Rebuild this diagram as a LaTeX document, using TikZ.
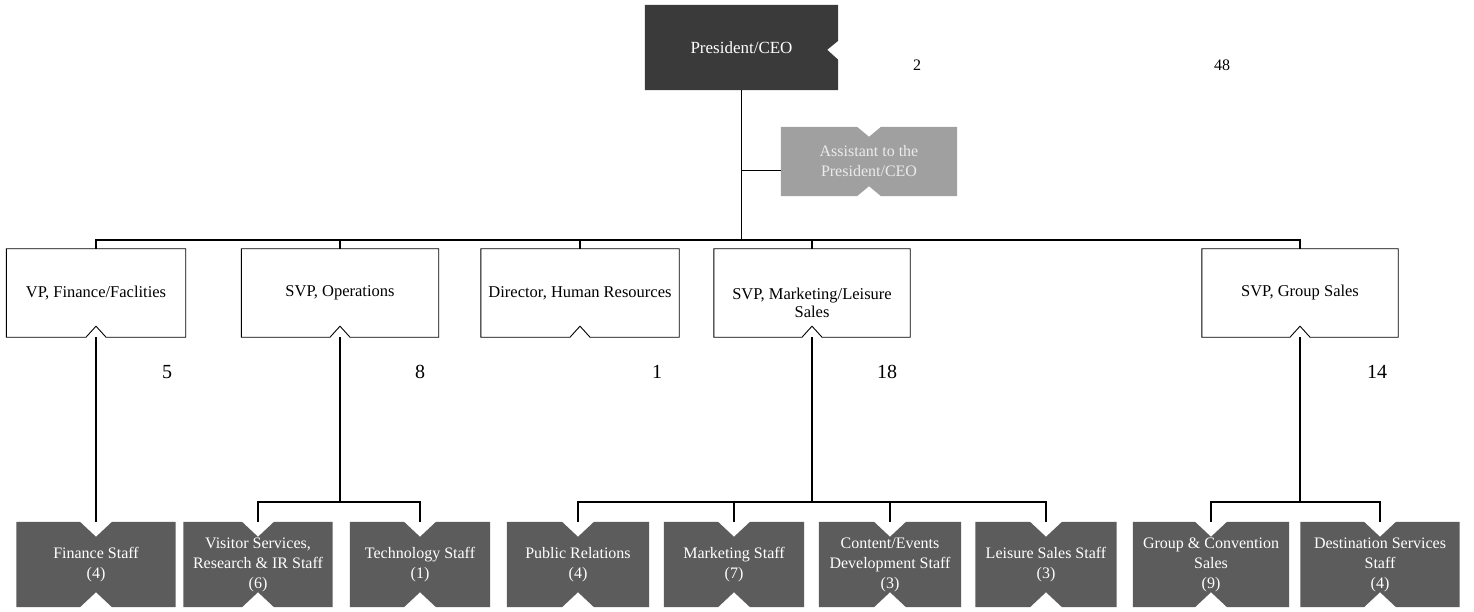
\documentclass[tikz,border=0pt]{standalone}
\usepackage{fontspec}
\setmainfont{Liberation Serif}
\usetikzlibrary{calc,backgrounds}

\definecolor{ceofill}{HTML}{3A3A3A}
\definecolor{asstfill}{HTML}{A0A0A0}
\definecolor{stafffill}{HTML}{5C5C5C}

\tikzset{
  frame/.style={inner sep=0pt, draw=none},
  headtext/.style={align=center, inner sep=0pt, font=\fontsize{16.5}{18.5}\selectfont},
  stafftext/.style={align=center, inner sep=0pt, text=white, font=\fontsize{16}{20}\selectfont},
  count/.style={inner sep=0pt, font=\fontsize{20}{20}\selectfont},
  smallcount/.style={inner sep=0pt, font=\fontsize{16}{16}\selectfont},
  link/.style={line width=1.4pt, draw=black},
  headline/.style={line width=0.9pt, fill=white, draw=black},
}

% white head box with a notch in its bottom edge
% #1 name, #2 centre x, #3 width, #4 text shift, #5 label
\newcommand\headbox[5]{%
  \node[frame, minimum width=#3, minimum height=88] (#1) at (#2,293) {};
  \draw[headline] (#1.north west) -- (#1.north east) -- (#1.south east)
     -- ($(#1.south)+(10,0)$) -- ($(#1.south)+(0,-11)$) -- ($(#1.south)+(-10,0)$)
     -- (#1.south west) -- cycle;
  \node[headtext] (#1-text) at ($(#1.center)+(0,#4)$) {#5};
}

% grey staff box, notched at top and bottom
% #1 name, #2 centre x, #3 width, #4 label
\newcommand\staffbox[4]{%
  \node[frame, minimum width=#3, minimum height=85] (#1) at (#2,564.5) {};
  \fill[stafffill] (#1.north west) -- ($(#1.north)+(-16,0)$) -- ($(#1.north)+(0,15)$)
     -- ($(#1.north)+(16,0)$) -- (#1.north east) -- (#1.south east)
     -- ($(#1.south)+(16,0)$) -- ($(#1.south)+(0,-15)$) -- ($(#1.south)+(-16,0)$)
     -- (#1.south west) -- cycle;
  \node[stafftext] (#1-text) at (#1.center) {#4};
}

\begin{document}
\begin{tikzpicture}[x=1pt, y=-1pt]
  \fill[white] (0,0) rectangle (1474,612);
  \useasboundingbox (0,0) rectangle (1474,612);

  % top: president
  \node[frame, minimum width=193, minimum height=85] (ceo) at (741.5,47.5) {};
  \fill[ceofill] (ceo.north west) -- (ceo.north east)
     -- ($(ceo.north east)+(0,36)$) -- ($(ceo.north east)+(-11,45)$) -- ($(ceo.north east)+(0,55)$)
     -- (ceo.south east) -- (ceo.south west) -- cycle;
  \node[headtext, text=white, font=\fontsize{17}{19}\selectfont] (ceo-text) at (ceo.center) {President/CEO};

  % assistant
  \node[frame, minimum width=176, minimum height=69] (asst) at (869,161.5) {};
  \fill[asstfill] (asst.north west) -- ($(asst.north)+(-12,0)$) -- ($(asst.north)+(0,10)$)
     -- ($(asst.north)+(12,0)$) -- (asst.north east) -- (asst.south east)
     -- ($(asst.south)+(12,0)$) -- ($(asst.south)+(0,-10)$) -- ($(asst.south)+(-12,0)$)
     -- (asst.south west) -- cycle;
  \node[align=center, inner sep=0pt, text=white!92!black, font=\fontsize{16}{20}\selectfont]
     (asst-text) at (asst.center) {Assistant to the\\President/CEO};

  % second level
  \headbox{vpf}{96}{179}{0}{VP, Finance/Faclities}
  \headbox{ops}{340}{197}{0}{SVP, Operations}
  \headbox{hr}{580}{198}{0}{Director, Human Resources}
  \headbox{mkt}{812}{196}{10}{SVP, Marketing/Leisure\\Sales}
  \headbox{grp}{1300}{196}{0}{SVP, Group Sales}

  % third level
  \staffbox{fin}{96}{159}{Finance Staff\\(4)}
  \staffbox{vis}{258}{149}{Visitor Services,\\Research \& IR Staff\\(6)}
  \staffbox{tech}{420}{140}{Technology Staff\\(1)}
  \staffbox{pr}{578}{142}{Public Relations\\(4)}
  \staffbox{mkst}{734}{140}{Marketing Staff\\(7)}
  \staffbox{cont}{890}{142}{Content/Events\\Development Staff\\(3)}
  \staffbox{leis}{1046}{141}{Leisure Sales Staff\\(3)}
  \staffbox{gcs}{1211}{156}{Group \& Convention\\Sales\\(9)}
  \staffbox{dss}{1380}{159}{Destination Services\\Staff\\(4)}

  % head counts
  \node[smallcount] (n-ceo) at (917,65) {2};
  \node[smallcount] (n-all) at (1222,65) {48};
  \node[count] (n-vpf) at (167,372) {5};
  \node[count] (n-ops) at (420,372) {8};
  \node[count] (n-hr) at (657,372) {1};
  \node[count] (n-mkt) at (887,372) {18};
  \node[count] (n-grp) at (1377,372) {14};

  % president to second level
  \draw[link] (ceo.south) -- ++(0,150) coordinate (hub);
  \draw[link] (vpf.north) |- (hub) -| (grp.north);
  \draw[link] (ops.north) -- (ops.north |- hub);
  \draw[link] (hr.north) -- (hr.north |- hub);
  \draw[link] (mkt.north) -- (mkt.north |- hub);

  % assistant branch
  \coordinate (asst-tap) at ($(asst.west)+(0,9)$);
  \draw[link] (asst-tap -| ceo.south) -- (asst-tap);

  % finance
  \draw[link] (vpf.south) -- (fin.north);

  % operations
  \draw[link] (ops.south) -- ($(ops.south |- vis.north)+(0,-20)$) coordinate (opsbus);
  \draw[link] (vis.north) |- (opsbus) -| (tech.north);

  % marketing
  \draw[link] (mkt.south) -- ($(mkt.south |- pr.north)+(0,-20)$) coordinate (mktbus);
  \draw[link] (pr.north) |- (mktbus) -| (leis.north);
  \draw[link] (mkst.north) -- (mkst.north |- mktbus);
  \draw[link] (cont.north) -- (cont.north |- mktbus);

  % group sales
  \draw[link] (grp.south) -- ($(grp.south |- gcs.north)+(0,-20)$) coordinate (grpbus);
  \draw[link] (gcs.north) |- (grpbus) -| (dss.north);
\end{tikzpicture}
\end{document}
